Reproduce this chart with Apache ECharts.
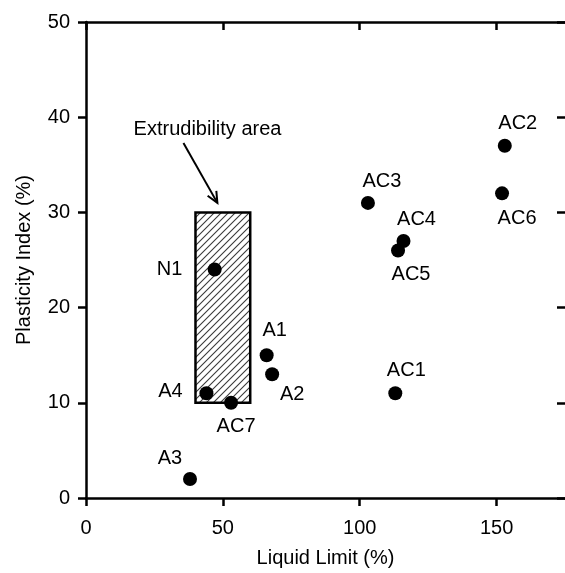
<!DOCTYPE html>
<html>
<head>
<meta charset="utf-8">
<script src="https://cdn.jsdelivr.net/npm/echarts@6/dist/echarts.min.js"></script>
<style>html,body{margin:0;padding:0;background:#fff;}#chart{width:565px;height:573px;}</style>
</head>
<body>
<div id="chart"></div>
<script>
// ---- data ----
var sampleNames = ['A1','A2','A3','A4','N1','AC1','AC2','AC3','AC4','AC5','AC6','AC7'];
var liquidLimit = [66, 68, 38, 44, 47, 113, 153, 103, 116, 114, 152, 53];
var plasticityIndex = [15, 13, 2, 11, 24, 11, 37, 31, 27, 26, 32, 10];
var xTicks = [0, 50, 100, 150];
var yTicks = [0, 10, 20, 30, 40, 50];
// extrudibility area: [LL min, PI min, LL max, PI max]
var extrudibilityArea = [40, 10, 60, 30];
var areaLabel = 'Extrudibility area';
var arrowFrom = [35.6, 37.3];
var arrowTo = [48, 31];
var areaLabelAt = [44.4, 38.7];

// ---- styles (label offsets, px) ----
var labelOffsets = {
  'A1':[8,-25], 'A2':[20,20], 'A3':[-20,-20], 'A4':[-36,-2], 'N1':[-45,0],
  'AC1':[11,-23], 'AC2':[13,-22], 'AC3':[14,-21], 'AC4':[13,-21], 'AC5':[13,24],
  'AC6':[15,25], 'AC7':[5,24]
};
var FONT = 'Liberation Sans, Arial, sans-serif';
var FS = 20;

// hatch pattern
var tile = document.createElement('canvas');
var s = 7; tile.width = s; tile.height = s;
var g = tile.getContext('2d');
g.fillStyle = '#fff'; g.fillRect(0,0,s,s);
g.strokeStyle = '#3a3a3a'; g.lineWidth = 1.1;
g.beginPath();
g.moveTo(0, s); g.lineTo(s, 0);
g.moveTo(-1, 1); g.lineTo(1, -1);
g.moveTo(s-1, s+1); g.lineTo(s+1, s-1);
g.stroke();

var points = sampleNames.map(function(n, i){
  return {
    name: n,
    value: [liquidLimit[i], plasticityIndex[i]],
    label: {offset: labelOffsets[n]}
  };
});

var chart = echarts.init(document.getElementById('chart'), null, {renderer:'canvas'});
var lineStyle = {color:'#000', width:2.5};
function axisLine(show){ return {show:show, onZero:false, lineStyle:lineStyle}; }
chart.setOption({
  animation: false,
  backgroundColor: '#fff',
  grid: {left: 86, top: 22, width: 481, height: 482, containLabel: false},
  xAxis: [
    {
      type:'value', min:0, max:175, interval:50, position:'bottom',
      name:'Liquid Limit (%)', nameLocation:'middle', nameGap: 50,
      nameTextStyle:{fontFamily:FONT, fontSize:FS, color:'#000'},
      axisLine: axisLine(true), splitLine:{show:false},
      axisTick:{show:true, inside:false, length:8, customValues:xTicks, lineStyle:lineStyle},
      axisLabel:{show:true, margin:20, fontFamily:FONT, fontSize:FS, color:'#000', customValues:xTicks}
    },
    {
      type:'value', min:0, max:175, interval:50, position:'top',
      axisLine: axisLine(true), splitLine:{show:false},
      axisTick:{show:true, inside:true, length:8, customValues:xTicks, lineStyle:lineStyle},
      axisLabel:{show:false}
    }
  ],
  yAxis: [
    {
      type:'value', min:0, max:50, interval:10, position:'left',
      name:'Plasticity Index (%)', nameLocation:'middle', nameGap: 52,
      nameTextStyle:{fontFamily:FONT, fontSize:FS, color:'#000'},
      axisLine: axisLine(true), splitLine:{show:false},
      axisTick:{show:true, inside:false, length:8, customValues:yTicks, lineStyle:lineStyle},
      axisLabel:{show:true, margin:16, fontFamily:FONT, fontSize:FS, color:'#000', customValues:yTicks}
    },
    {
      type:'value', min:0, max:50, interval:10, position:'right',
      axisLine: axisLine(false), splitLine:{show:false},
      axisTick:{show:true, inside:true, length:8, customValues:yTicks, lineStyle:lineStyle},
      axisLabel:{show:false}
    }
  ],
  series: [
    {
      type:'custom',
      xAxisIndex:0, yAxisIndex:0,
      data:[extrudibilityArea],
      z: 1,
      renderItem: function(params, api){
        var p0 = api.coord([extrudibilityArea[0], extrudibilityArea[3]]);
        var p1 = api.coord([extrudibilityArea[2], extrudibilityArea[1]]);
        var a0 = api.coord(arrowFrom);
        var a1 = api.coord(arrowTo);
        var lp = api.coord(areaLabelAt);
        var dx = a1[0]-a0[0], dy = a1[1]-a0[1];
        var L = Math.sqrt(dx*dx+dy*dy); var ux = dx/L, uy = dy/L;
        var h = 11, w = 5;
        var b = [a1[0]-ux*h, a1[1]-uy*h];
        var left = [b[0]-uy*w, b[1]+ux*w], right = [b[0]+uy*w, b[1]-ux*w];
        return {
          type:'group',
          children:[
            {type:'rect', shape:{x:p0[0], y:p0[1], width:p1[0]-p0[0], height:p1[1]-p0[1]},
             style:{fill:{image:tile, repeat:'repeat'}, stroke:'#000', lineWidth:2.5}},
            {type:'line', shape:{x1:a0[0], y1:a0[1], x2:a1[0], y2:a1[1]},
             style:{stroke:'#000', lineWidth:2}},
            {type:'polyline', shape:{points:[left, a1, right]},
             style:{stroke:'#000', lineWidth:2, fill:null}},
            {type:'text', x:lp[0], y:lp[1],
             style:{text:areaLabel, fontFamily:FONT, fontSize:FS, fill:'#000', align:'center', verticalAlign:'middle'}}
          ]
        };
      }
    },
    {
      type:'scatter',
      xAxisIndex:0, yAxisIndex:0,
      z: 3,
      symbol:'circle', symbolSize:14,
      itemStyle:{color:'#000', opacity:1},
      label:{show:true, position:'inside', formatter:'{b}', fontFamily:FONT, fontSize:FS, color:'#000'},
      data: points
    }
  ]
});
</script>
</body>
</html>
